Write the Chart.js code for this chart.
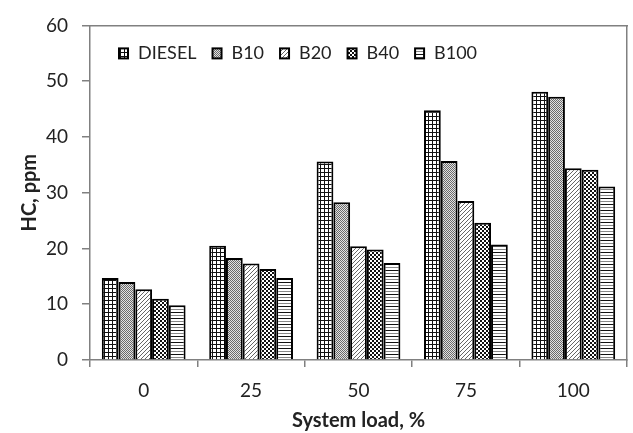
<!DOCTYPE html>
<html>
<head>
<meta charset="utf-8">
<script src="https://cdn.jsdelivr.net/npm/chart.js@4.4.0/dist/chart.umd.min.js"></script>
<style>
  html, body { margin: 0; padding: 0; background: #fff; }
  #wrap { width: 633px; height: 433px; }
</style>
</head>
<body>
<div id="wrap"><canvas id="chart" width="633" height="433"></canvas></div>
<script>
const loads = ['0', '25', '50', '75', '100'];
const diesel = [14.7, 20.5, 35.6, 44.8, 48.1];
const b10 = [14.0, 18.3, 28.3, 35.7, 47.2];
const b20 = [12.7, 17.3, 20.4, 28.5, 34.4];
const b40 = [11.0, 16.3, 19.8, 24.6, 34.1];
const b100 = [9.8, 14.7, 17.4, 20.7, 31.1];
const yTicks = [0, 10, 20, 30, 40, 50, 60];

// small repeating fills, black & white print style
function makePattern(size, paint) {
  let c = document.createElement('canvas');
  c.width = size; c.height = size;
  let g = c.getContext('2d');
  g.fillStyle = '#fff';
  g.fillRect(0, 0, size, size);
  paint(g);
  return g.createPattern(c, 'repeat');
}
const px = (g, col, x, y, w = 1, h = 1) => { g.fillStyle = col; g.fillRect(x, y, w, h); };

const gridFill = makePattern(4, g => {
  px(g, '#111', 0, 0, 4, 1);
  px(g, '#111', 0, 0, 1, 4);
});
const dotFill = makePattern(2, g => {
  px(g, '#e2e2e2', 0, 0, 2, 2);
  px(g, '#6a6a6a', 0, 0);
  px(g, '#6a6a6a', 1, 1);
});
const diagFill = makePattern(4, g => {
  for (let i = 0; i < 4; i++) px(g, '#666', i, 3 - i);
});
const checkFill = makePattern(4, g => {
  px(g, '#111', 0, 0, 2, 2);
  px(g, '#111', 2, 2, 2, 2);
});
const lineFill = makePattern(6, g => {
  px(g, '#111', 0, 0, 6, 1);
  px(g, '#888', 0, 3, 6, 1);
});

const axisGray = '#808080';
const textColor = '#222';
const fontFamily = 'Lato, "Open Sans", sans-serif';

function bar(label, data, fill) {
  return {
    label: label,
    data: data,
    backgroundColor: fill,
    borderColor: '#000',
    borderWidth: 2,
    barPercentage: 1,
    categoryPercentage: 0.78
  };
}

// one-row legend drawn inside the plot
const inLegend = {
  id: 'inLegend',
  afterDraw(chart) {
    const a = chart.chartArea, ctx = chart.ctx;
    ctx.save();
    ctx.font = '18px ' + fontFamily;
    ctx.textBaseline = 'middle';
    let x = a.left + 29;
    const y = a.top + 28;
    chart.data.datasets.forEach(ds => {
      ctx.fillStyle = ds.backgroundColor;
      ctx.fillRect(x, y - 5, 9, 10);
      ctx.strokeStyle = '#000';
      ctx.lineWidth = 2;
      ctx.strokeRect(x, y - 5, 9, 10);
      ctx.fillStyle = textColor;
      ctx.fillText(ds.label, x + 19, y);
      x += 19 + ctx.measureText(ds.label).width + 16;
    });
    ctx.restore();
  }
};

// bare axes on top and right, only for their border line
const edge = (pos) => ({
  position: pos,
  display: true,
  grid: { display: false, drawTicks: false },
  ticks: { display: false },
  border: { display: true, color: axisGray, width: 1.5 },
  afterFit(s) { if (pos === 'top') s.height = 0; else s.width = 0; }
});

Chart.defaults.font.family = fontFamily;
Chart.defaults.color = textColor;

new Chart(document.getElementById('chart'), {
  type: 'bar',
  data: {
    labels: loads,
    datasets: [
      bar('DIESEL', diesel, gridFill),
      bar('B10', b10, dotFill),
      bar('B20', b20, diagFill),
      bar('B40', b40, checkFill),
      bar('B100', b100, lineFill)
    ]
  },
  plugins: [inLegend],
  options: {
    responsive: false,
    animation: false,
    layout: { padding: { top: 22, right: 6, left: 0, bottom: 0 } },
    plugins: {
      tooltip: { enabled: false },
      legend: { display: false }
    },
    scales: {
      x: {
        afterFit(s) { s.height = 73; },
        border: { color: axisGray, width: 1.5 },
        grid: {
          offset: true,
          drawOnChartArea: false,
          tickLength: 7,
          color: axisGray,
          lineWidth: 1.5
        },
        ticks: { padding: 12, font: { size: 19 }, color: textColor },
        title: {
          display: true,
          text: 'System load, %',
          font: { size: 20, weight: 'bold' },
          color: textColor,
          padding: { top: 0, bottom: 0 }
        }
      },
      y: {
        min: 0,
        max: 60,
        afterFit(s) { s.width = 90; },
        afterBuildTicks(s) { s.ticks = yTicks.map(v => ({ value: v })); },
        border: { color: axisGray, width: 1.5 },
        grid: {
          drawOnChartArea: false,
          tickLength: 8,
          color: axisGray,
          lineWidth: 1.5
        },
        ticks: { padding: 14, font: { size: 19 }, color: textColor },
        title: {
          display: true,
          text: 'HC, ppm',
          font: { size: 20, weight: 'bold' },
          color: textColor,
          padding: { top: 18, bottom: 0 }
        }
      },
      xTop: Object.assign({ type: 'category', axis: 'x' }, edge('top')),
      yRight: Object.assign({ type: 'linear', axis: 'y', min: 0, max: 60 }, edge('right'))
    }
  }
});
</script>
</body>
</html>
